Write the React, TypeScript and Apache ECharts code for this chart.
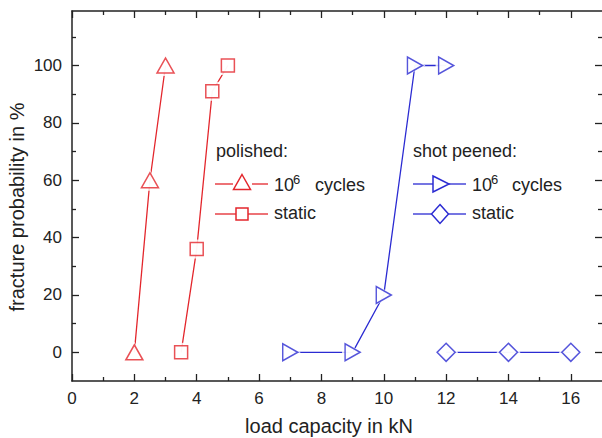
import React, { useEffect, useRef } from "react";
import * as echarts from "echarts";

// ---- data ----
const polishedCyclesX = [2, 2.5, 3];
const polishedCyclesY = [0, 60, 100];
const polishedStaticX = [3.5, 4, 4.5, 5];
const polishedStaticY = [0, 36, 91, 100];
const peenedCyclesX = [7, 9, 10, 11, 12];
const peenedCyclesY = [0, 0, 20, 100, 100];
const peenedStaticX = [12, 14, 16];
const peenedStaticY = [0, 0, 0];

const xMajorTicks = [0, 2, 4, 6, 8, 10, 12, 14, 16];
const xMinorTicks = [1, 3, 5, 7, 9, 11, 13, 15];
const yMajorTicks = [0, 20, 40, 60, 80, 100];
const yMinorTicks = [10, 30, 50, 70, 90, 110];

const RED = "#e3262c";
const BLUE = "#2b2bd2";
const INK = "#222";
const FONT = '"Liberation Sans", Arial, Helvetica, sans-serif';

function pairs(xs: number[], ys: number[]) {
  return xs.map((x, i) => [x, ys[i]]);
}

function group(
  xs: number[],
  ys: number[],
  color: string,
  symbol: string,
  size: number[],
  rotate: number
) {
  const data = pairs(xs, ys);
  return [
    {
      type: "line",
      data,
      symbol: "none",
      showSymbol: false,
      lineStyle: { color, width: 1.3 },
      z: 2,
      silent: true,
    },
    {
      type: "scatter",
      data,
      symbol,
      symbolSize: [size[0] + 6, size[1] + 6],
      symbolRotate: rotate,
      itemStyle: { color: "#fff" },
      z: 3,
      silent: true,
    },
    {
      type: "scatter",
      data,
      symbol,
      symbolSize: size,
      symbolRotate: rotate,
      itemStyle: { color: "#fff", borderColor: color, borderWidth: 1.5 },
      z: 4,
      silent: true,
    },
  ];
}

function axisBase(extra: any) {
  return {
    type: "value",
    splitLine: { show: false },
    ...extra,
  };
}

function txt(text: string, x: number, y: number, size: number, extra: any = {}) {
  return {
    type: "text",
    x,
    y,
    style: {
      text,
      fill: INK,
      fontSize: size,
      fontFamily: FONT,
      align: "left",
      verticalAlign: "middle",
      textAlign: "left",
      textVerticalAlign: "middle",
      ...extra,
    },
    z: 10,
  };
}

function seg(x1: number, x2: number, y: number, color: string) {
  return {
    type: "line",
    shape: { x1, y1: y, x2, y2: y },
    style: { stroke: color, lineWidth: 1.3 },
    z: 10,
  };
}

export default function App() {
  const ref = useRef<HTMLDivElement>(null);
  useEffect(() => {
    if (!ref.current) return;
    const chart = echarts.init(ref.current, undefined, { renderer: "svg" });
    const lineStyle = { color: INK, width: 1.5 };
    const tickMajor = (vals: number[]) => ({
      inside: true,
      length: 7,
      customValues: vals,
      lineStyle: { color: INK, width: 1.3 },
    });
    const tickMinor = (vals: number[]) => ({
      inside: true,
      length: 4,
      customValues: vals,
      lineStyle: { color: INK, width: 1.3 },
    });
    const xr = { min: 0, max: 17 };
    const yr = { min: -10, max: 119 };
    const option: any = {
      animation: false,
      backgroundColor: "#fff",
      grid: { left: 72, top: 11, width: 531, height: 370 },
      xAxis: [
        axisBase({
          ...xr,
          position: "bottom",
          axisLine: { onZero: false, lineStyle },
          axisTick: tickMajor(xMajorTicks),
          axisLabel: {
            customValues: xMajorTicks,
            fontSize: 17,
            color: INK,
            fontFamily: FONT,
            margin: 9,
          },
        }),
        axisBase({
          ...xr,
          position: "bottom",
          axisLine: { show: false, onZero: false },
          axisTick: tickMinor(xMinorTicks),
          axisLabel: { show: false },
        }),
        axisBase({
          ...xr,
          position: "top",
          axisLine: { onZero: false, lineStyle },
          axisTick: tickMajor(xMajorTicks),
          axisLabel: { show: false },
        }),
        axisBase({
          ...xr,
          position: "top",
          axisLine: { show: false, onZero: false },
          axisTick: tickMinor(xMinorTicks),
          axisLabel: { show: false },
        }),
      ],
      yAxis: [
        axisBase({
          ...yr,
          position: "left",
          axisLine: { show: true, onZero: false, lineStyle },
          axisTick: tickMajor(yMajorTicks),
          axisLabel: {
            customValues: yMajorTicks,
            fontSize: 17,
            color: INK,
            fontFamily: FONT,
            margin: 10,
          },
        }),
        axisBase({
          ...yr,
          position: "left",
          axisLine: { show: false, onZero: false },
          axisTick: tickMinor(yMinorTicks),
          axisLabel: { show: false },
        }),
        axisBase({
          ...yr,
          position: "right",
          axisLine: { show: false, onZero: false },
          axisTick: tickMajor(yMajorTicks),
          axisLabel: { show: false },
        }),
        axisBase({
          ...yr,
          position: "right",
          axisLine: { show: false, onZero: false },
          axisTick: tickMinor(yMinorTicks),
          axisLabel: { show: false },
        }),
      ],
      series: [
        ...group(polishedCyclesX, polishedCyclesY, RED, "triangle", [17, 15], 0),
        ...group(polishedStaticX, polishedStaticY, RED, "rect", [13, 13], 0),
        ...group(peenedCyclesX, peenedCyclesY, BLUE, "triangle", [17, 15], -90),
        ...group(peenedStaticX, peenedStaticY, BLUE, "diamond", [18, 18], 0),
      ],
      graphic: [
        txt("load capacity in kN", 329, 426, 20, { align: "center", textAlign: "center" }),
        {
          type: "text",
          x: 17,
          y: 207,
          rotation: Math.PI / 2,
          style: {
            text: "fracture probability in %",
            fill: INK,
            fontSize: 20,
            fontFamily: FONT,
            align: "center",
            verticalAlign: "middle",
            textAlign: "center",
            textVerticalAlign: "middle",
          },
          z: 10,
        },
        // polished legend
        txt("polished:", 216, 151, 18),
        seg(215, 233, 184, RED),
        seg(252, 268, 184, RED),
        {
          type: "polygon",
          shape: { points: [[242, 174.5], [250.5, 189.5], [233.5, 189.5]] },
          style: { fill: "#fff", stroke: RED, lineWidth: 1.5 },
          z: 10,
        },
        txt("10", 274, 185, 18),
        txt("6", 293, 179, 13),
        txt("cycles", 315, 185, 18),
        seg(215, 236, 214, RED),
        seg(248, 268, 214, RED),
        {
          type: "rect",
          shape: { x: 236, y: 208, width: 12, height: 12 },
          style: { fill: "#fff", stroke: RED, lineWidth: 1.5 },
          z: 10,
        },
        txt("static", 274, 213, 18),
        // shot peened legend
        txt("shot peened:", 413, 151, 18),
        seg(413, 433, 184, BLUE),
        seg(449, 466, 184, BLUE),
        {
          type: "polygon",
          shape: { points: [[433, 176], [449, 184], [433, 192]] },
          style: { fill: "#fff", stroke: BLUE, lineWidth: 1.5 },
          z: 10,
        },
        txt("10", 472, 185, 18),
        txt("6", 491, 179, 13),
        txt("cycles", 512, 185, 18),
        seg(413, 431, 214, BLUE),
        seg(449, 466, 214, BLUE),
        {
          type: "polygon",
          shape: { points: [[440, 204.5], [448.5, 214], [440, 223.5], [431.5, 214]] },
          style: { fill: "#fff", stroke: BLUE, lineWidth: 1.5 },
          z: 10,
        },
        txt("static", 472, 213, 18),
      ],
    };
    chart.setOption(option);
    return () => chart.dispose();
  }, []);
  return (
    <div
      ref={ref}
      style={{ position: "absolute", left: 0, top: 0, width: 602, height: 438, background: "#fff" }}
    />
  );
}
